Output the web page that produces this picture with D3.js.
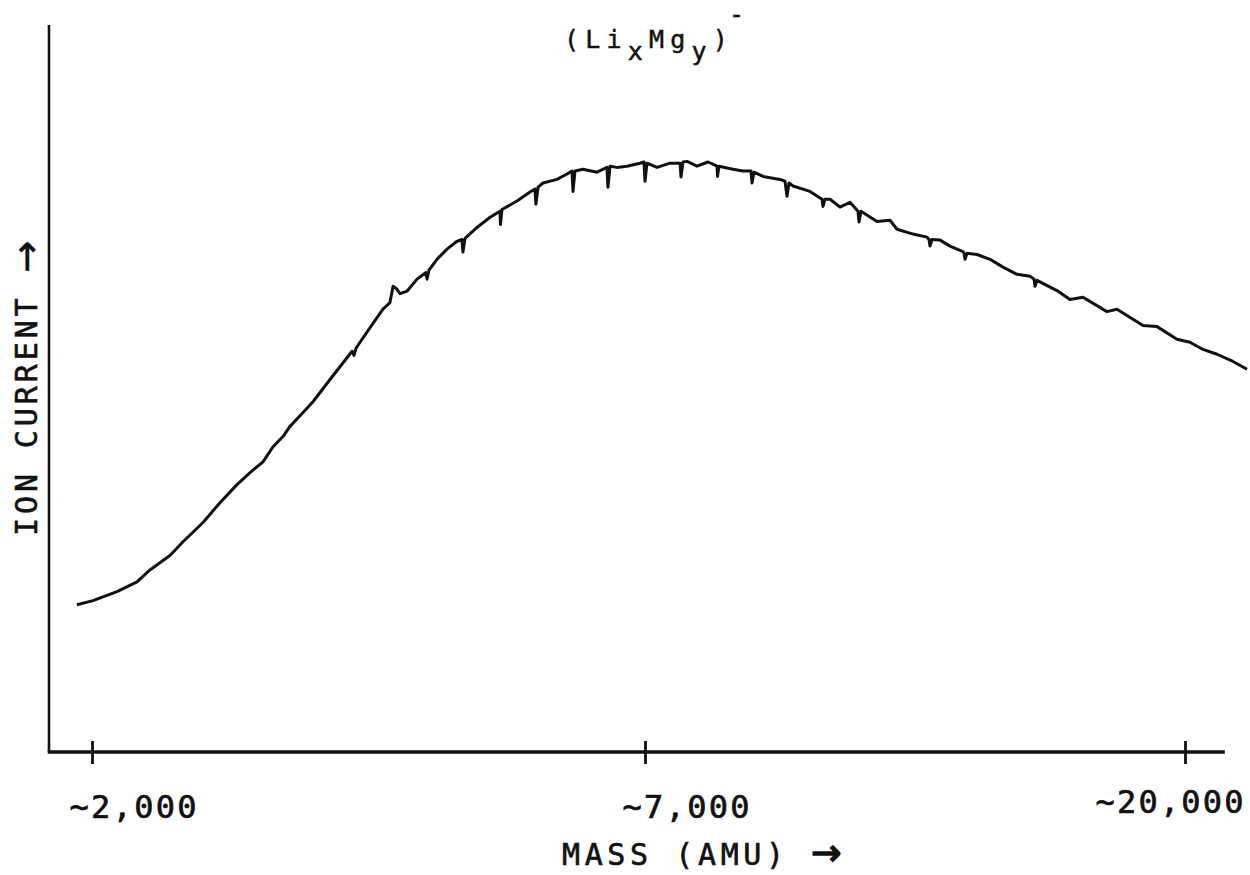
<!DOCTYPE html>
<html>
<head>
<meta charset="utf-8">
<script src="https://cdn.jsdelivr.net/npm/d3@7"></script>
<style>
  body { margin: 0; background: #fff; }
  svg { display: block; }
</style>
</head>
<body>
<svg id="chart" width="1250" height="875"></svg>
<script>
// tick masses and their printed labels (approximate, as on the plot)
const tickMasses = [2000, 7000, 20000];
const tickLabels = ["~2,000", "~7,000", "~20,000"];

// ends of the scanned mass range and of the ion current axis (arb. units)
const massRange = [1600, 20960];
const currentRange = [0, 121];

// mass (amu)
const mass = [
  1864, 2009, 2226, 2407, 2524, 2705, 2823, 3004, 3157, 3311, 3429, 3546, 3637, 3727, 3790, 3908,
  3998, 4152, 4288, 4351, 4369, 4387, 4423, 4577, 4631, 4694, 4722, 4749, 4785, 4848, 4939, 5020,
  5029, 5047, 5119, 5210, 5300, 5345, 5354, 5373, 5481, 5599, 5689, 5693, 5707, 5843, 5960, 6005,
  6014, 6033, 6078, 6204, 6295, 6340, 6349, 6367, 6439, 6566, 6656, 6665, 6684, 6747, 6837, 6955,
  6991, 7000, 7048, 7289, 7602, 7843, 7867, 7915, 8011, 8252, 8517, 8733, 8745, 8781, 9119, 9359,
  9552, 9576, 9624, 9841, 10250, 10370, 10419, 10467, 10563, 10972, 11261, 11285, 11333, 11454, 11694, 11935,
  12128, 12152, 12200, 12585, 12898, 13067, 13452, 13789, 13837, 13861, 13909, 14102, 14343, 14656, 14680, 14704,
  14752, 14993, 15306, 15618, 15956, 16268, 16365, 16389, 16437, 16918, 17231, 17544, 18122, 18363, 18989, 19326,
  19807, 20120, 20433, 20770, 21156, 21493
];

// ion current (arbitrary units) at each mass
const ionCurrent = [
  24.5, 25.2, 26.7, 28.3, 30.3, 32.7, 35.0, 38.2, 41.5, 44.5, 46.5, 48.3, 50.8, 52.5, 54.2, 56.5,
  58.3, 62.0, 65.2, 66.7, 66.0, 67.2, 68.2, 72.3, 73.7, 74.8, 77.5, 77.2, 76.3, 76.7, 78.7, 79.8,
  78.7, 80.2, 82.0, 83.7, 85.0, 85.3, 83.2, 85.5, 87.3, 89.0, 90.0, 87.8, 90.3, 91.7, 93.2, 93.7,
  91.2, 94.0, 94.7, 95.3, 96.2, 96.7, 93.3, 96.7, 97.0, 96.5, 97.3, 94.0, 97.5, 97.3, 97.5, 98.0,
  98.2, 95.0, 98.0, 97.3, 98.0, 98.0, 95.7, 98.2, 98.3, 97.5, 98.2, 97.5, 95.8, 97.5, 97.0, 96.7,
  96.7, 94.7, 96.5, 95.8, 95.3, 95.0, 92.5, 94.7, 94.2, 93.3, 92.0, 90.8, 92.0, 92.0, 90.7, 91.5,
  90.0, 88.2, 90.0, 88.3, 88.5, 87.0, 86.2, 85.7, 85.3, 84.2, 85.3, 85.2, 84.2, 83.3, 83.0, 82.0,
  83.0, 82.8, 82.0, 80.7, 79.5, 79.2, 78.7, 77.5, 78.5, 76.8, 75.3, 75.7, 73.3, 73.7, 71.0, 70.8,
  68.7, 68.2, 67.0, 66.2, 65.0, 63.7
];

const font = "'DejaVu Sans Mono', 'Liberation Mono', monospace";
const ink = "#111";

const svg = d3.select("#chart");

// the printed mass axis is not uniform, so map through the three marked masses
const x = d3.scaleLinear()
  .domain(tickMasses)
  .range([92, 645, 1185]);

const y = d3.scaleLinear()
  .domain(currentRange)
  .range([752, 25]);

const points = mass.map((m, i) => ({ m, c: ionCurrent[i] }));

// y axis: bare line
svg.append("line")
  .attr("x1", 49).attr("x2", 49)
  .attr("y1", y(currentRange[1])).attr("y2", y(0))
  .attr("stroke", ink)
  .attr("stroke-width", 2.6);

// x axis line across the whole scan
svg.append("line")
  .attr("x1", x(massRange[0])).attr("x2", x(massRange[1]))
  .attr("y1", y(0)).attr("y2", y(0))
  .attr("stroke", ink)
  .attr("stroke-width", 3.6);

const xAxis = svg.append("g")
  .attr("transform", `translate(0,${y(0)})`)
  .call(d3.axisBottom(x)
    .tickValues(tickMasses)
    .tickSize(12)
    .tickFormat((d, i) => tickLabels[i]));

xAxis.select(".domain").remove();

xAxis.selectAll(".tick line")
  .attr("y1", -11)
  .attr("y2", 12)
  .attr("stroke", ink)
  .attr("stroke-width", 2.8);

const last = tickLabels.length - 1;
xAxis.selectAll(".tick text")
  .attr("y", 0)
  .attr("dy", null)
  .attr("fill", ink)
  .attr("stroke", ink)
  .attr("stroke-width", 0.7)
  .style("font-family", font)
  .style("font-size", "32px")
  .attr("text-anchor", (d, i) => i === last ? "end" : "start")
  .attr("x", (d, i) => i === last ? 1243 - x(d) : -23)
  .attr("transform", (d, i) => `translate(0,${i === last ? 61 : 66})`)
  .attr("textLength", (d, i) => i === last ? 148 : 127)
  .attr("lengthAdjust", "spacing");

// the trace
svg.append("path")
  .datum(points)
  .attr("fill", "none")
  .attr("stroke", ink)
  .attr("stroke-width", 3)
  .attr("stroke-linejoin", "round")
  .attr("d", d3.line().x(d => x(d.m)).y(d => y(d.c)));

// axis titles
const xTitle = svg.append("text")
  .attr("x", 562)
  .attr("y", 865)
  .attr("fill", ink)
  .attr("stroke", ink)
  .attr("stroke-width", 0.6)
  .style("font-family", font)
  .style("font-size", "30px")
  .style("letter-spacing", "4.6px");
xTitle.append("tspan").text("MASS (AMU) ");
xTitle.append("tspan")
  .style("font-family", "'DejaVu Sans', sans-serif")
  .style("font-size", "36px")
  .attr("stroke-width", 1.6)
  .text("\u2192");

const yTitle = svg.append("text")
  .attr("transform", "translate(37,536) rotate(-90)")
  .attr("fill", ink)
  .attr("stroke", ink)
  .attr("stroke-width", 0.6)
  .style("font-family", font)
  .style("font-size", "30px")
  .style("letter-spacing", "3.9px");
yTitle.append("tspan").text("ION CURRENT ");
yTitle.append("tspan")
  .style("font-family", "'DejaVu Sans', sans-serif")
  .style("font-size", "38px")
  .attr("dy", 2)
  .text("\u2192");

// chart title (LixMgy)-
const title = svg.append("text")
  .attr("x", 564)
  .attr("y", 48)
  .attr("fill", ink)
  .attr("stroke", ink)
  .attr("stroke-width", 0.5)
  .style("font-family", font)
  .style("font-size", "25px")
  .style("letter-spacing", "6.2px");

title.append("tspan").text("(Li");
title.append("tspan").attr("dy", 12).text("x");
title.append("tspan").attr("dy", -12).text("Mg");
title.append("tspan").attr("dy", 12).text("y");
title.append("tspan").attr("dy", -12).text(")");
title.append("tspan").attr("dy", -25).attr("dx", -5).text("-");
</script>
</body>
</html>
